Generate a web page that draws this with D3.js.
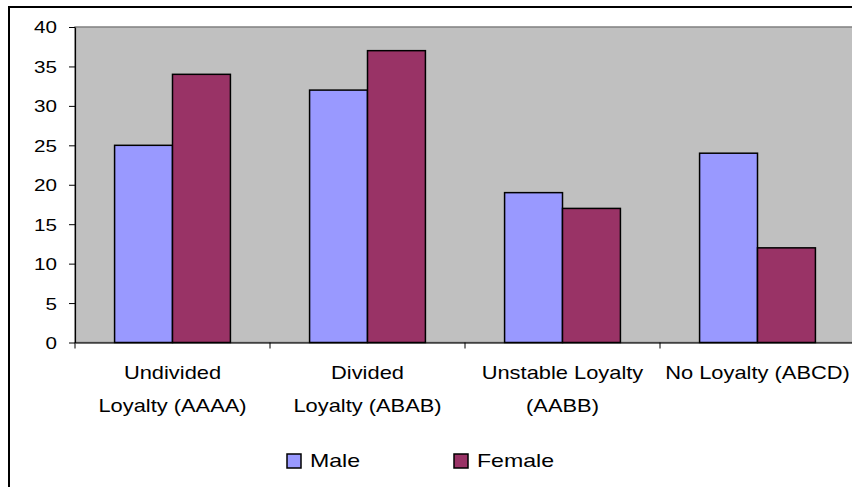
<!DOCTYPE html>
<html>
<head>
<meta charset="utf-8">
<script src="https://cdn.jsdelivr.net/npm/d3@7"></script>
<style>
  html, body { margin: 0; padding: 0; background: #fff; }
  svg { display: block; }
  text { font-family: "Liberation Sans", Arial, sans-serif; fill: #000; }
</style>
</head>
<body>
<svg id="chart" width="852" height="487"></svg>
<script>
// Loyalty pattern categories (each entry holds the wrapped label lines)
const categories = [
  ["Undivided", "Loyalty (AAAA)"],
  ["Divided", "Loyalty (ABAB)"],
  ["Unstable Loyalty", "(AABB)"],
  ["No Loyalty (ABCD)"]
];
const seriesNames = ["Male", "Female"];
const maleValues = [25, 32, 19, 24];
const femaleValues = [34, 37, 17, 12];
const yTicks = [0, 5, 10, 15, 20, 25, 30, 35, 40];

const colors = { Male: "#9999FF", Female: "#993366" };
const series = [
  { name: seriesNames[0], values: maleValues },
  { name: seriesNames[1], values: femaleValues }
];

const svg = d3.select("#chart");
const plot = { left: 75, top: 27, right: 855, bottom: 342.5 };
const sx = 1.25; // horizontal glyph stretch of the text

// outer chart frame
svg.append("rect")
  .attr("x", 9).attr("y", 7)
  .attr("width", 860).attr("height", 500)
  .attr("fill", "#fff").attr("stroke", "#000").attr("stroke-width", 2);

const catKeys = categories.map(c => c.join(" "));
const x = d3.scaleBand().domain(catKeys).range([plot.left, plot.right]).paddingInner(0).paddingOuter(0);
const y = d3.scaleLinear().domain([0, 40]).range([plot.bottom, plot.top]);

// plot area background
svg.append("rect")
  .attr("x", plot.left).attr("y", plot.top)
  .attr("width", plot.right - plot.left).attr("height", plot.bottom - plot.top)
  .attr("fill", "#C0C0C0").attr("stroke", "#808080").attr("stroke-width", 1.5);

// bars
const barW = x.bandwidth() * 0.297;
const groupOffset = (x.bandwidth() - barW * series.length) / 2;
series.forEach((s, si) => {
  svg.append("g").selectAll("rect")
    .data(s.values)
    .join("rect")
    .attr("x", (d, i) => x(catKeys[i]) + groupOffset + si * barW)
    .attr("y", d => y(d))
    .attr("width", barW)
    .attr("height", d => y(0) - y(d))
    .attr("fill", colors[s.name])
    .attr("stroke", "#000")
    .attr("stroke-width", 1.5);
});

// y axis
const yAxis = svg.append("g")
  .attr("transform", `translate(${plot.left},0)`)
  .call(d3.axisLeft(y).tickValues(yTicks).tickSize(6).tickSizeOuter(0).tickFormat(d3.format("d")));
yAxis.select(".domain").attr("stroke", "#000").attr("stroke-width", 1.2);
yAxis.selectAll(".tick line").attr("stroke", "#000");
yAxis.selectAll(".tick text").remove();
yAxis.selectAll(".tick").append("g")
  .attr("transform", "translate(-18,0)")
  .append("text")
  .attr("transform", `scale(${sx},1)`)
  .attr("text-anchor", "end")
  .attr("dy", "0.36em")
  .style("font-size", "16.5px")
  .text(d => d);

// x axis with tick marks between categories
const xAxis = svg.append("g")
  .attr("transform", `translate(0,${plot.bottom})`)
  .call(d3.axisBottom(x).tickSize(0).tickFormat(""));
xAxis.select(".domain").attr("stroke", "#000").attr("stroke-width", 1.2);
const bounds = catKeys.map(k => x(k)).concat([plot.right]);
xAxis.selectAll("line.sep")
  .data(bounds)
  .join("line")
  .attr("class", "sep")
  .attr("x1", d => d).attr("x2", d => d)
  .attr("y1", 0).attr("y2", 6)
  .attr("stroke", "#000");

// category labels
categories.forEach((lines, i) => {
  const cx = x(catKeys[i]) + x.bandwidth() / 2;
  lines.forEach((line, li) => {
    svg.append("g")
      .attr("transform", `translate(${cx},${379 + li * 32.5})`)
      .append("text")
      .attr("transform", `scale(${sx},1)`)
      .attr("text-anchor", "middle")
      .style("font-size", "17.5px")
      .text(line);
  });
});

// legend
const legendX = [286, 453];
const legend = svg.append("g");
series.forEach((s, i) => {
  legend.append("rect")
    .attr("x", legendX[i] + 1).attr("y", 454)
    .attr("width", 14).attr("height", 14)
    .attr("fill", colors[s.name])
    .attr("stroke", "#000").attr("stroke-width", 1.5);
  legend.append("g")
    .attr("transform", `translate(${legendX[i] + 24},467)`)
    .append("text")
    .attr("transform", `scale(${sx},1)`)
    .style("font-size", "18.5px")
    .text(s.name);
});
</script>
</body>
</html>
